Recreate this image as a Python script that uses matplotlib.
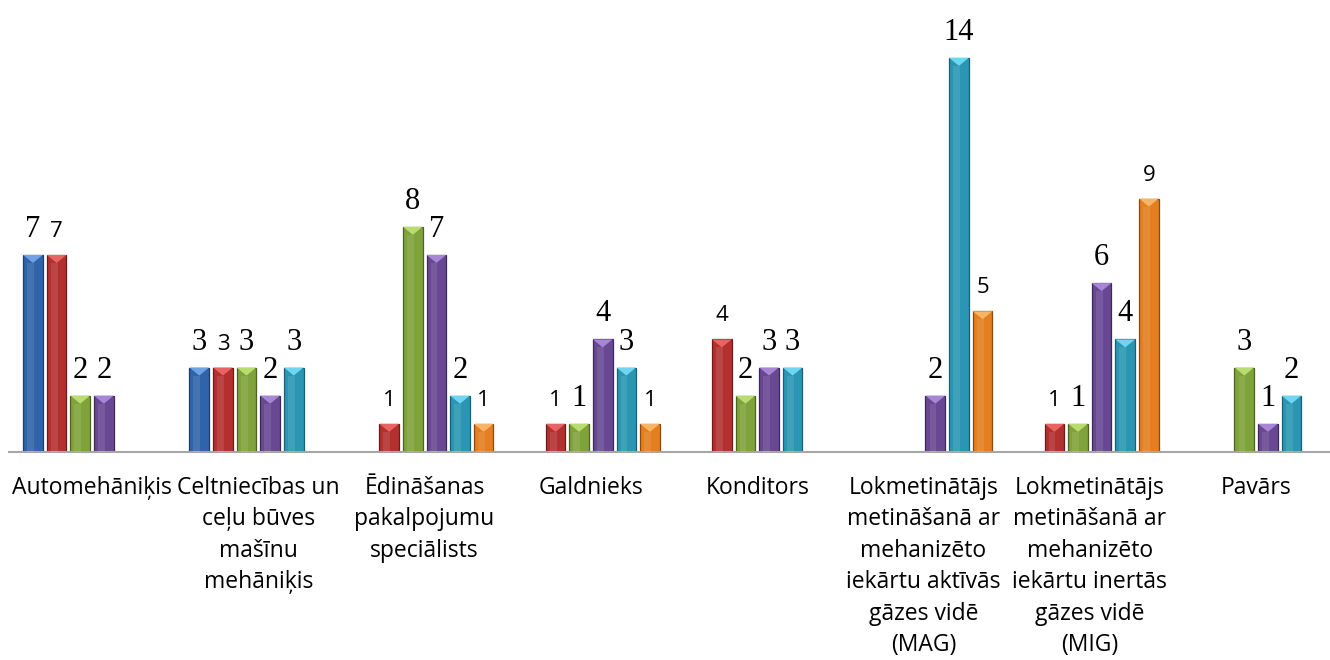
import numpy as np
import matplotlib
matplotlib.use("Agg")
import matplotlib.pyplot as plt
from matplotlib.patches import Polygon

categories = [
    "Automehāniķis",
    "Celtniecības un\nceļu būves\nmašīnu\nmehāniķis",
    "Ēdināšanas\npakalpojumu\nspeciālists",
    "Galdnieks",
    "Konditors",
    "Lokmetinātājs\nmetināšanā ar\nmehanizēto\niekārtu aktīvās\ngāzes vidē\n(MAG)",
    "Lokmetinātājs\nmetināšanā ar\nmehanizēto\niekārtu inertās\ngāzes vidē\n(MIG)",
    "Pavārs",
]
nan = np.nan
s_blue = [7, 3, nan, nan, nan, nan, nan, nan]
s_red = [7, 3, 1, 1, 4, nan, 1, nan]
s_green = [2, 3, 8, 1, 2, nan, 1, 3]
s_purple = [2, 2, 7, 4, 3, 2, 6, 1]
s_cyan = [nan, 3, 2, 3, 3, 14, 4, 2]
s_orange = [nan, nan, 1, 1, nan, 5, 9, nan]
series = [s_blue, s_red, s_green, s_purple, s_cyan, s_orange]

face = ["#2f64a8", "#b3302f", "#7fa23a", "#684892", "#2a96b3", "#e47e1f"]
edge = ["#1d3f6e", "#6e1b1b", "#4c6322", "#3e2a58", "#196075", "#8c4a10"]
tri = ["#6ea2e6", "#e86464", "#b9dc6e", "#a687d6", "#6fd6f2", "#f8b565"]
# label style per series: True = large serif, False = small sans
big = [True, False, True, True, True, False]

W, H = 1330, 660
fig = plt.figure(figsize=(W / 100, H / 100), dpi=100)
px_unit = 28.15
base_y = 452
ymax = 15.5
top_px = base_y - ymax * px_unit
cat_w = 166.3
left_px = 92 - cat_w / 2
ax = fig.add_axes([left_px / W, (H - base_y) / H, 8 * cat_w / W, (base_y - top_px) / H])
ax.set_xlim(-0.5, 7.5)
ax.set_ylim(0, ymax)

step = 0.142
bw = 0.118
x = np.arange(len(categories))
tri_d = 8 / px_unit

for i, vals in enumerate(series):
    v = np.array(vals, dtype=float)
    mask = ~np.isnan(v)
    xs = x[mask] + (i - 2.5) * step
    hs = v[mask]
    ax.bar(xs, hs, width=bw, color=face[i], edgecolor=edge[i], linewidth=0.9, zorder=2)
    # subtle highlight strip
    ax.bar(xs - bw * 0.12, hs - tri_d, width=bw * 0.35, color="white", alpha=0.10,
           linewidth=0, zorder=3)
    for xc, h in zip(xs, hs):
        poly = Polygon([(xc - bw / 2, h), (xc + bw / 2, h), (xc, h - tri_d)],
                       closed=True, facecolor=tri[i], edgecolor="none", zorder=4)
        ax.add_patch(poly)
        lbl = f"{int(h)}"
        if big[i]:
            ax.annotate(lbl, (xc, h), xytext=(0, 18), textcoords="offset pixels",
                        ha="center", va="baseline", fontsize=22,
                        family="Liberation Serif", color="black")
        else:
            ax.annotate(lbl, (xc, h), xytext=(0, 18), textcoords="offset pixels",
                        ha="center", va="baseline", fontsize=16,
                        family="Open Sans", color="black")

for s in ["top", "left", "right"]:
    ax.spines[s].set_visible(False)
ax.spines["bottom"].set_color("#a6a6a6")
ax.spines["bottom"].set_linewidth(1.5)
ax.set_yticks([])
ax.set_xticks(x)
ax.set_xticklabels(categories, fontsize=16.5, family="Open Sans", linespacing=1.42,
                   ha="center", va="top")
ax.tick_params(axis="x", length=0, pad=17)

fig.savefig("out.png", dpi=100, facecolor="white")
